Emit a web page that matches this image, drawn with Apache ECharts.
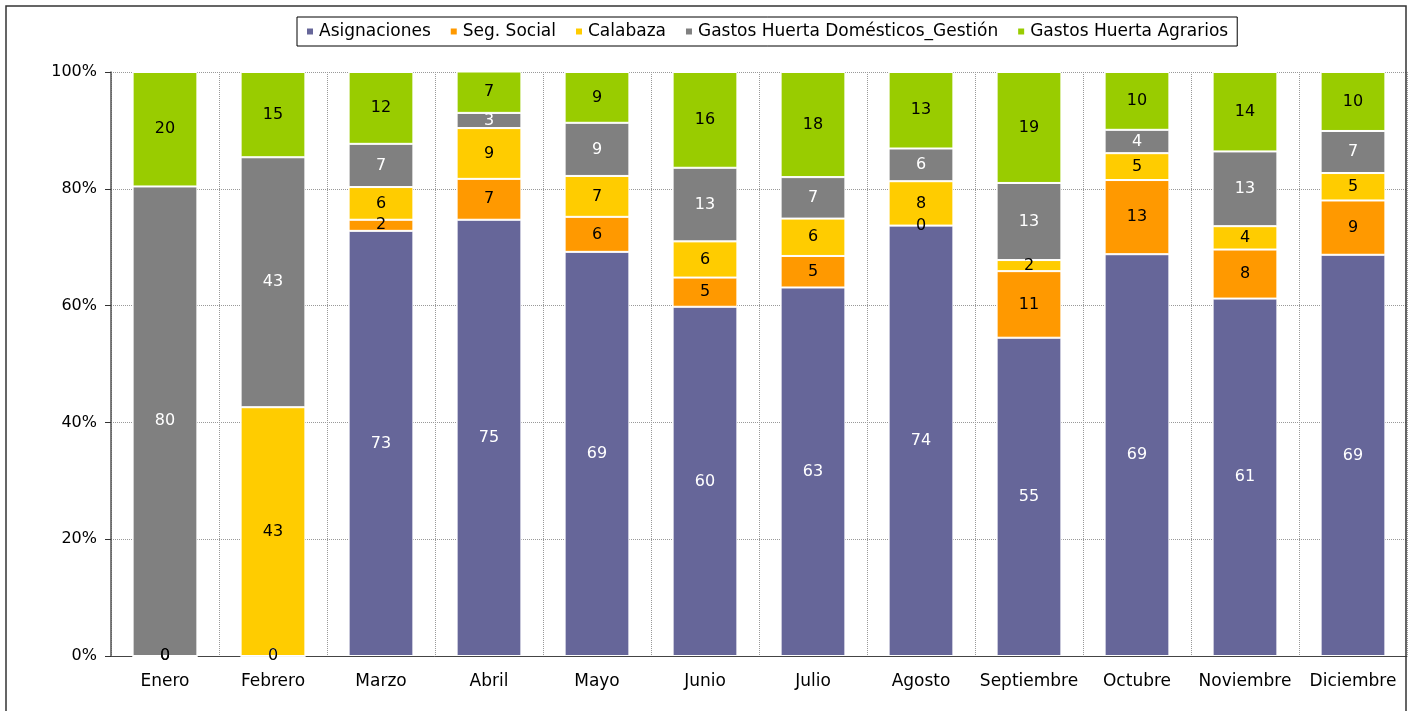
<!DOCTYPE html>
<html>
<head>
<meta charset="utf-8">
<title>Gastos por mes</title>
<script src="https://cdn.jsdelivr.net/npm/echarts@6/dist/echarts.min.js"></script>
<style>
    html, body { margin: 0; padding: 0; background: #fff; }
    #chart-1 { width: 1409px; height: 711px; }
</style>
</head>
<body>
<div id="chart-1"></div>
<script>
var meses = ['Enero','Febrero','Marzo','Abril','Mayo','Junio','Julio','Agosto','Septiembre','Octubre','Noviembre','Diciembre'];
var yTicks = [0, 20, 40, 60, 80, 100];

// % de cada mes (se leen del grafico)
var asignaciones = [0, 0, 72.8, 74.7, 69.2, 59.8, 63.1, 73.7, 54.5, 68.8, 61.2, 68.7];
var segSocial    = [0, 0, 1.9, 7.0, 6.0, 5.0, 5.4, 0, 11.4, 12.7, 8.4, 9.3];
var calabaza     = [0, 42.6, 5.6, 8.7, 7.0, 6.2, 6.4, 7.6, 1.9, 4.6, 4.0, 4.7];
var domesticos   = [80.4, 42.8, 7.4, 2.6, 9.1, 12.6, 7.1, 5.6, 13.2, 4.0, 12.8, 7.2];
var agrarios     = [19.6, 14.6, 12.3, 7.1, 8.7, 16.4, 18.0, 13.1, 19.0, 9.9, 13.6, 10.1];

var nombres = ['Asignaciones','Seg. Social','Calabaza','Gastos Huerta Domésticos_Gestión','Gastos Huerta Agrarios'];
var valores = [asignaciones, segSocial, calabaza, domesticos, agrarios];
var colores = ['#666699','#ff9900','#ffcc00','#808080','#99cc00'];
var colorTexto = ['#fff','#000','#000','#fff','#000'];

var series = [];
for (var i = 0; i < nombres.length; i++) {
    series.push({
        name: nombres[i],
        type: 'bar',
        stack: 'total',
        barCategoryGap: '40%',
        data: valores[i],
        itemStyle: {
            color: colores[i],
            borderColor: '#fff',
            borderWidth: 1
        },
        label: {
            show: true,
            position: 'inside',
            color: colorTexto[i],
            fontSize: 16,
            fontFamily: 'DejaVu Sans',
            formatter: function (p) { return Math.round(p.value); }
        }
    });
}

var option_1 = {
    color: colores,
    backgroundColor: '#fff',
    animation: false,
    textStyle: { fontFamily: 'DejaVu Sans' },
    graphic: [{
        type: 'rect',
        shape: { x: 6, y: 6, width: 1400, height: 720 },
        style: { fill: 'none', stroke: '#333', lineWidth: 1.5 },
        z: 100
    }],
    legend: {
        left: 297,
        top: 17,
        padding: [6, 9, 6, 8],
        borderColor: '#000',
        borderWidth: 1,
        itemWidth: 8,
        itemHeight: 8,
        itemGap: 18,
        icon: 'rect',
        textStyle: {
            color: '#000',
            fontSize: 17,
            fontFamily: 'DejaVu Sans'
        },
        data: nombres
    },
    grid: {
        left: 111,
        right: 2,
        top: 72,
        bottom: 55
    },
    xAxis: {
        type: 'category',
        data: meses,
        axisLine: {
            lineStyle: { color: '#444' }
        },
        axisTick: {
            length: 5,
            lineStyle: { color: '#444' }
        },
        axisLabel: {
            color: '#000',
            fontSize: 17,
            margin: 17,
            interval: 0
        },
        splitLine: {
            show: true,
            interval: 0,
            lineStyle: { color: '#999', type: 'dotted' }
        }
    },
    yAxis: {
        type: 'value',
        min: yTicks[0],
        max: yTicks[yTicks.length - 1],
        interval: yTicks[1] - yTicks[0],
        axisLine: {
            show: true,
            lineStyle: { color: '#555', width: 1.5 }
        },
        axisTick: {
            show: true,
            length: 6,
            lineStyle: { color: '#333' }
        },
        axisLabel: {
            color: '#000',
            fontSize: 16,
            margin: 14,
            formatter: '{value}%'
        },
        splitLine: {
            lineStyle: { color: '#999', type: 'dotted' }
        }
    },
    series: series
};
var myChart_1 = echarts.init(document.getElementById('chart-1'));
myChart_1.setOption(option_1);
</script>
</body>
</html>
